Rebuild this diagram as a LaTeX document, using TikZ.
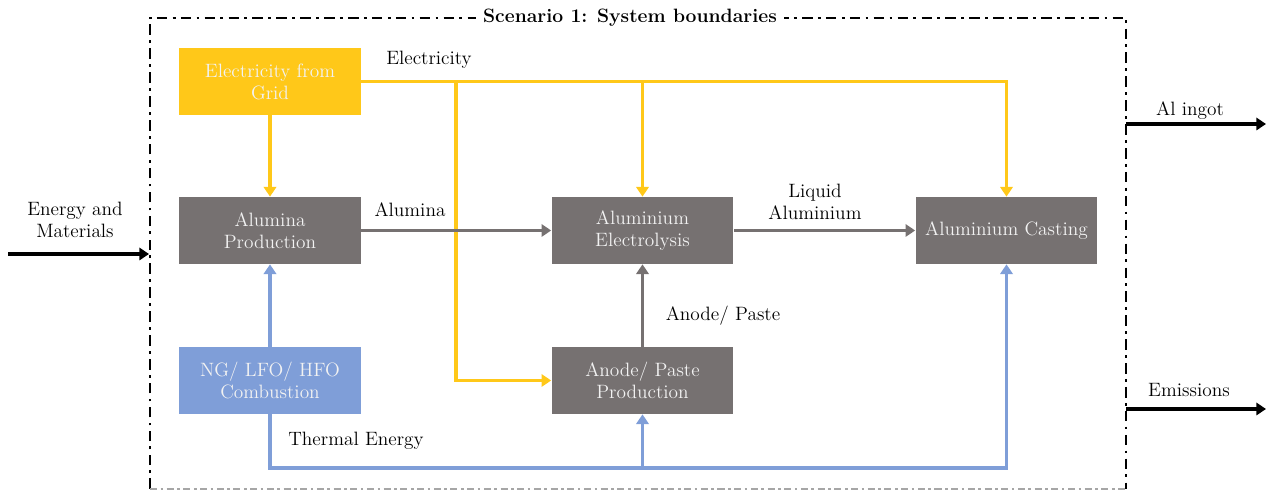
\documentclass[tikz,border=0pt]{standalone}
\usepackage{xcolor}
\usetikzlibrary{arrows.meta}
\definecolor{gridyellow}{HTML}{FFC819}
\definecolor{procgray}{HTML}{767171}
\definecolor{heatblue}{HTML}{7F9ED8}
\tikzset{
  every node/.style={font=\fontsize{11}{12.5}\selectfont},
  proc/.style={rectangle,minimum width=3.64cm,minimum height=1.34cm,
    align=center,inner sep=0pt,text=white!95!black},
  elec/.style={gridyellow,line width=1.9pt,-{Triangle[length=5.5pt,width=7pt]}},
  flow/.style={procgray,line width=1.9pt,-{Triangle[length=5.5pt,width=7pt]}},
  therm/.style={heatblue,line width=1.9pt,-{Triangle[length=5.5pt,width=7pt]}},
  ext/.style={black,line width=1.9pt,-{Triangle[length=5.5pt,width=7pt]}},
  lbl/.style={align=center,inner sep=1pt}
}
\begin{document}
\begin{tikzpicture}[x=0.02cm,y=-0.02cm]
  \useasboundingbox (0,0) rectangle (1269,492);
  % Limites del sistema
  \draw[black,line width=1.6pt,dash pattern=on 6pt off 3pt on 1.6pt off 3pt]
    (150,489) -- (150,18) -- (1126,18) -- (1126,489);
  \draw[black!35,line width=1.2pt,dash pattern=on 4pt off 2pt on 1.5pt off 2pt]
    (150,489) -- (1126,489);
  \node[fill=white,font=\fontsize{11}{13}\selectfont\bfseries,inner xsep=4pt] (title) at (630,18)
    {Scenario 1: System boundaries};
  % Procesos
  \node[proc,fill=gridyellow] (grid) at (270,81.5) {Electricity from\\Grid};
  \node[proc,fill=procgray] (alumina) at (270,230.5) {Alumina\\Production};
  \node[proc,fill=procgray] (electrolysis) at (642.5,230.5) {Aluminium\\Electrolysis};
  \node[proc,fill=procgray] (casting) at (1006.5,230.5) {Aluminium Casting};
  \node[proc,fill=heatblue] (combustion) at (270,380.5) {NG/ LFO/ HFO\\Combustion};
  \node[proc,fill=procgray] (anode) at (642.5,380.5) {Anode/ Paste\\Production};
  % Electricidad
  \coordinate (ebranch) at (456,81.5);
  \draw[elec] (grid.east) -| (casting.north);
  \draw[elec] (grid.south) -- (alumina.north);
  \draw[elec] (grid.east -| electrolysis.north) -- (electrolysis.north);
  \draw[elec] (ebranch) |- (anode.west);
  \node[lbl] (elecl) at (429,60) {Electricity};
  % Flujos de material
  \draw[flow] (alumina) -- (electrolysis);
  \draw[flow] (electrolysis) -- (casting);
  \draw[flow] (anode) -- (electrolysis);
  \node[lbl] (aluminal) at (410,210) {Alumina};
  \node[lbl] (liquidl) at (815,202) {Liquid\\Aluminium};
  \node[lbl] (anodel) at (723,316) {Anode/ Paste};
  % Energia termica
  \coordinate (tbus) at (270,468);
  \draw[therm] (combustion) -- (alumina);
  \draw[therm] (combustion.south) -- (tbus) -| (casting.south);
  \draw[therm] (tbus -| anode.south) -- (anode.south);
  \node[lbl] (thermall) at (356,441) {Thermal Energy};
  % Entradas y salidas
  \coordinate (inA) at (8,254);
  \coordinate (inB) at (149,254);
  \coordinate (ingotA) at (1126,124);
  \coordinate (ingotB) at (1266,124);
  \coordinate (emisA) at (1126,409);
  \coordinate (emisB) at (1266,409);
  \draw[ext] (inA) -- (inB);
  \draw[ext] (ingotA) -- (ingotB);
  \draw[ext] (emisA) -- (emisB);
  \node[lbl] (inl) at (75,220) {Energy and\\Materials};
  \node[lbl] (ingotl) at (1190,111) {Al ingot};
  \node[lbl] (emisl) at (1189,390) {Emissions};
\end{tikzpicture}
\end{document}
